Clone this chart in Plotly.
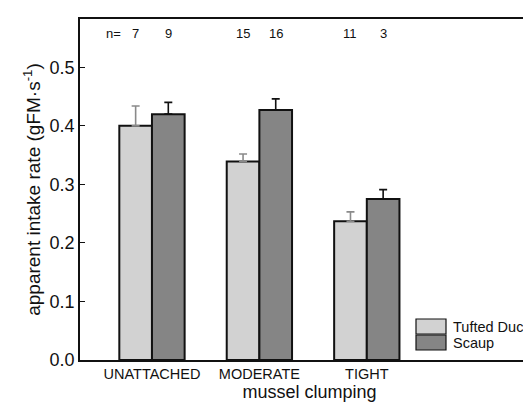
import plotly.graph_objects as go

# ---- data ----
categories = ["UNATTACHED", "MODERATE", "TIGHT"]
series_names = ["Tufted Duck", "Scaup"]
tufted = [0.400, 0.339, 0.237]
tufted_err = [0.034, 0.013, 0.016]
scaup = [0.420, 0.427, 0.275]
scaup_err = [0.020, 0.019, 0.016]
n_tufted = ["7", "15", "11"]
n_scaup = ["9", "16", "3"]
y_ticks = [0.0, 0.1, 0.2, 0.3, 0.4, 0.5]

# ---- layout constants ----
W, H = 531, 407
ML, MR, MT, MB = 72, 0, 11, 55
PW, PH = W - ML - MR, H - MT - MB
BW = 0.304
FONT = "Liberation Sans, Arial, sans-serif"
colors = ["#d2d2d2", "#858585"]
err_colors = ["#8a8a8a", "#111111"]

def px_x(px):
    return (px - ML) / PW

def px_y(py):
    return (H - MB - py) / PH

xpos = list(range(len(categories)))

fig = go.Figure()
for i, (vals, errs) in enumerate([(tufted, tufted_err), (scaup, scaup_err)]):
    fig.add_trace(go.Bar(
        x=xpos, y=vals, width=BW, offset=-BW if i == 0 else 0,
        name=series_names[i],
        marker=dict(color=colors[i], line=dict(color="#111111", width=2)),
        error_y=dict(type="data", array=errs, arrayminus=[0] * len(errs),
                     symmetric=False, color=err_colors[i], thickness=1.6, width=4),
        showlegend=False,
    ))

# n labels
ann = []
for j in xpos:
    ann.append(dict(x=j - BW / 2, y=0.558, text=n_tufted[j], showarrow=False,
                    font=dict(size=13, color="#111", family=FONT)))
    ann.append(dict(x=j + BW / 2, y=0.558, text=n_scaup[j], showarrow=False,
                    font=dict(size=13, color="#111", family=FONT)))
ann.append(dict(x=-0.36, y=0.558, text="n=", showarrow=False,
                font=dict(size=13, color="#111", family=FONT)))

# manual legend
shapes = []
leg_tops = [311, 327]
for i, name in enumerate(series_names):
    y0, y1 = leg_tops[i], leg_tops[i] + 15
    shapes.append(dict(type="rect", xref="paper", yref="paper",
                       x0=px_x(408), x1=px_x(438), y0=px_y(y1), y1=px_y(y0),
                       fillcolor=colors[i], line=dict(color="#111", width=1.2)))
    ann.append(dict(xref="paper", yref="paper", x=px_x(443), y=px_y((y0 + y1) / 2),
                    xanchor="left", yanchor="middle", text=name, showarrow=False,
                    font=dict(size=14.5, color="#111", family=FONT)))

fig.update_layout(
    width=W, height=H,
    margin=dict(l=ML, r=MR, t=MT, b=MB, pad=0, autoexpand=False),
    paper_bgcolor="white", plot_bgcolor="white",
    font=dict(family=FONT, color="#111"),
    barmode="overlay",
    annotations=ann, shapes=shapes,
    xaxis=dict(range=[-0.67, 3.603], tickvals=xpos, ticktext=categories,
               automargin=False,
               showgrid=False, zeroline=False, showline=True, linecolor="#111",
               linewidth=1.5, mirror=True, ticks="",
               tickfont=dict(size=14.5, family=FONT),
               title=dict(text="mussel clumping", font=dict(size=18, family=FONT), standoff=4)),
    yaxis=dict(range=[0, 0.5825], tickvals=y_ticks, tickformat=".1f",
               automargin=False,
               showgrid=False, zeroline=False, showline=True, linecolor="#111",
               linewidth=1.5, ticks="inside", ticklen=5, tickcolor="#111",
               tickfont=dict(size=18, family=FONT),
               title=dict(text="apparent intake rate (gFM·s<sup>-1</sup>)",
                          font=dict(size=19, family=FONT), standoff=4)),
)

fig.write_html("out.html")
